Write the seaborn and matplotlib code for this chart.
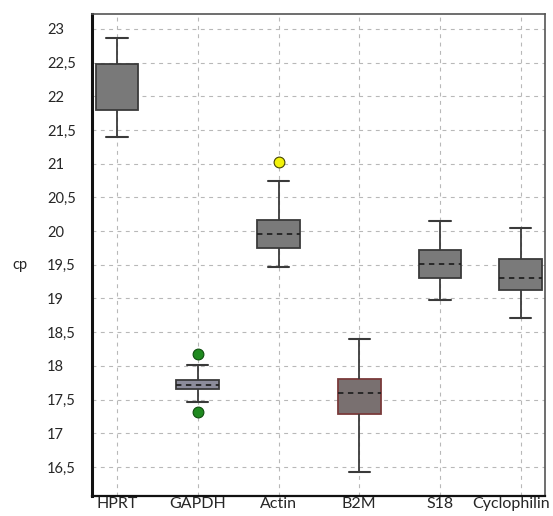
import numpy as np
import pandas as pd
import matplotlib
matplotlib.use("Agg")
import matplotlib.pyplot as plt
import matplotlib.transforms as mtrans
import seaborn as sns

genes = ["HPRT", "GAPDH", "Actin", "B2M", "S18", "Cyclophilin"]
whisker_low = [21.39, 17.46, 19.47, 16.42, 18.98, 18.71]
q1 = [21.80, 17.66, 19.75, 17.28, 19.31, 19.13]
median = [22.10, 17.72, 19.96, 17.60, 19.51, 19.31]
q3 = [22.48, 17.79, 20.16, 17.81, 19.72, 19.58]
whisker_high = [22.86, 18.01, 20.74, 18.40, 20.15, 20.04]
outlier_gene = ["GAPDH", "GAPDH", "Actin"]
outlier_value = [18.18, 17.31, 21.03]
outlier_color = ["#1f8a1f", "#1f8a1f", "#f2f20a"]
box_colors = {"HPRT": "#797979", "GAPDH": "#8a8a9e", "Actin": "#7a7a7a",
              "B2M": "#7a6f6f", "S18": "#7a7a7a", "Cyclophilin": "#7a7a7a"}
yticks = [16.5, 17, 17.5, 18, 18.5, 19, 19.5, 20, 20.5, 21, 21.5, 22, 22.5, 23]
ytick_labels = ["16,5", "17", "17,5", "18", "18,5", "19", "19,5", "20", "20,5",
                "21", "21,5", "22", "22,5", "23"]

rows = []
for g, a, b, c, d, e in zip(genes, whisker_low, q1, median, q3, whisker_high):
    for v in (a, b, c, d, e):
        rows.append({"gene": g, "cp": v})
df = pd.DataFrame(rows)
out_df = pd.DataFrame({"gene": outlier_gene, "cp": outlier_value, "c": outlier_color})

sns.set_style("white")
plt.rcParams["font.family"] = ["Lato", "DejaVu Sans"]

fig = plt.figure(figsize=(5.53, 5.16), dpi=100)
ax = fig.add_axes([92/553, 20/516, (545-92)/553, (496-14)/516])

sns.boxplot(data=df, x="gene", y="cp", hue="gene", order=genes, palette=box_colors,
            legend=False, whis=np.inf, width=0.53, linecolor="#3a3a3a", linewidth=1.3,
            medianprops=dict(linestyle=(0, (3, 2.5)), color="#222222", linewidth=1.3),
            whiskerprops=dict(color="#3a3a3a", linewidth=1.3),
            capprops=dict(color="#3a3a3a", linewidth=1.5),
            ax=ax, zorder=3)

# hide HPRT median (not visible in reference)
ax.lines[4].set_visible(False)
patches = [p for p in ax.patches]
if len(patches) >= 4:
    patches[3].set_edgecolor("#7a3a3a")

for _, r in out_df.iterrows():
    sns.scatterplot(x=[r["gene"]], y=[r["cp"]], color=r["c"], s=60, marker="o",
                    edgecolor="#444400" if r["c"] == "#f2f20a" else "#0d4d0d",
                    linewidth=0.8, ax=ax, zorder=5)

ax.set_xlim(-0.31, 5.30)
ax.set_ylim(16.07, 23.22)
ax.set_yticks(yticks)
ax.set_yticklabels(ytick_labels, fontsize=10.5)
for lab in ax.get_yticklabels():
    lab.set_horizontalalignment("left")
ax.tick_params(axis="y", length=0, pad=32.5)
ax.tick_params(axis="x", length=0, pad=1, labelsize=11.5)
ax.set_xlabel("")
ax.set_ylabel("cp", rotation=0, fontsize=10.5, va="center", ha="center")
ax.yaxis.set_label_coords(-0.159, 0.48)

ax.grid(True, axis="both", linestyle=(0, (3.5, 4)), color="#b8b8b8", linewidth=0.8)
ax.set_axisbelow(True)
for s in ["top", "right"]:
    ax.spines[s].set_color("#555555")
    ax.spines[s].set_linewidth(1.2)
ax.spines["left"].set_color("#111111")
ax.spines["left"].set_linewidth(2.2)
ax.spines["bottom"].set_color("#111111")
ax.spines["bottom"].set_linewidth(1.6)

fig.canvas.draw()
last = ax.get_xticklabels()[-1]
last.set_transform(last.get_transform() +
                   mtrans.ScaledTranslation(-0.10, 0, fig.dpi_scale_trans))

fig.savefig("out.png", dpi=100)
